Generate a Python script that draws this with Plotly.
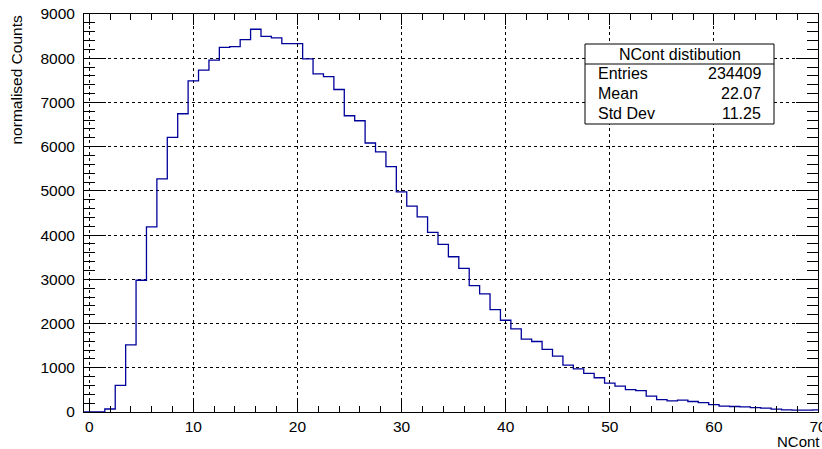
import plotly.graph_objects as go

# ---- data ----
bin_centers = list(range(0, 71))
counts = [0, 0, 68, 603, 1516, 2979, 4186, 5271, 6211, 6744,
          7489, 7729, 7955, 8245, 8260, 8421, 8655, 8496, 8459, 8331,
          8331, 7985, 7647, 7586, 7293, 6699, 6586, 6083, 5880, 5549,
          4977, 4654, 4414, 4060, 3789, 3511, 3248, 2857, 2669, 2316,
          2075, 1880, 1647, 1594, 1414, 1263, 1060, 977, 872, 774,
          654, 586, 504, 483, 360, 282, 252, 267, 237, 214,
          169, 132, 124, 117, 101, 86, 64, 49, 41, 41,
          49]
bin_width = 1.0
stats_title = "NCont distibution"
stats_labels = ["Entries", "Mean", "Std Dev"]
stats_values = ["234409", "22.07", "11.25"]
x_title = "NCont"
y_title = "normalised Counts"

# ---- geometry ----
W, H = 822, 449
ML, MR, MT, MB = 84, 4, 14, 37
PW, PH = W - ML - MR, H - MT - MB


def xp(px):
    return (px - ML) / PW


def yp(py):
    return (H - MB - py) / PH


edges = [c - bin_width / 2 for c in bin_centers] + [bin_centers[-1] + bin_width / 2]
step_y = counts + [counts[-1]]

FONT = "Liberation Sans, Arial, Helvetica, sans-serif"

fig = go.Figure()
fig.add_trace(go.Scatter(
    x=edges, y=step_y, mode="lines", line_shape="hv",
    line=dict(color="#00009c", width=1.3), showlegend=False, hoverinfo="skip"))

axis_common = dict(
    showline=True, linecolor="black", linewidth=1, mirror="allticks",
    ticks="inside", tickcolor="black", tickwidth=1, automargin=False,
    showgrid=True, gridcolor="black", griddash="dot", gridwidth=1,
    zeroline=False, ticklabeloverflow="allow",
    tickfont=dict(family=FONT, size=15.5, color="black"),
)

fig.update_xaxes(range=[-0.5, 70], tick0=0, dtick=10, ticklen=11,
                 minor=dict(dtick=2, ticklen=6, ticks="inside", tickcolor="black", showgrid=False),
                 ticklabelstandoff=0, **axis_common)
fig.update_yaxes(range=[0, 9000], tick0=0, dtick=1000, ticklen=22,
                 minor=dict(dtick=200, ticklen=11, ticks="inside", tickcolor="black", showgrid=False),
                 ticklabelstandoff=5, **axis_common)

# stats box
bx0, bx1, by0, by1, bsep = 585, 774, 44, 124, 64
fig.add_shape(type="rect", xref="paper", yref="paper",
              x0=xp(bx0), x1=xp(bx1), y0=yp(by1), y1=yp(by0),
              line=dict(color="black", width=1), fillcolor="white", layer="above")
fig.add_shape(type="line", xref="paper", yref="paper",
              x0=xp(bx0), x1=xp(bx1), y0=yp(bsep), y1=yp(bsep),
              line=dict(color="black", width=1), layer="above")

annotations = [dict(text=stats_title, x=xp((bx0 + bx1) / 2), y=yp(54.5),
                    xanchor="center", yanchor="middle")]
row_y = [73.5, 93, 113.5]
for lab, val, ry in zip(stats_labels, stats_values, row_y):
    annotations.append(dict(text=lab, x=xp(596), y=yp(ry), xanchor="left", yanchor="middle"))
    annotations.append(dict(text=val, x=xp(763), y=yp(ry), xanchor="right", yanchor="middle"))
for a in annotations:
    a.update(xref="paper", yref="paper", showarrow=False,
             font=dict(family=FONT, size=16, color="black"))

annotations.append(dict(text=x_title, xref="paper", yref="paper", x=xp(822), y=yp(441.5),
                        xanchor="right", yanchor="middle", showarrow=False,
                        font=dict(family=FONT, size=15, color="black")))
annotations.append(dict(text=y_title, xref="paper", yref="paper", x=xp(16), y=yp(14),
                        xanchor="center", yanchor="top", textangle=-90, showarrow=False,
                        font=dict(family=FONT, size=15.5, color="black")))

fig.update_layout(width=W, height=H, margin=dict(l=ML, r=MR, t=MT, b=MB, pad=0),
                  paper_bgcolor="white", plot_bgcolor="white",
                  annotations=annotations, showlegend=False)

fig.write_html("out.html", config={"displayModeBar": False},
               post_script="document.body.style.margin='0';document.body.style.padding='0';")
